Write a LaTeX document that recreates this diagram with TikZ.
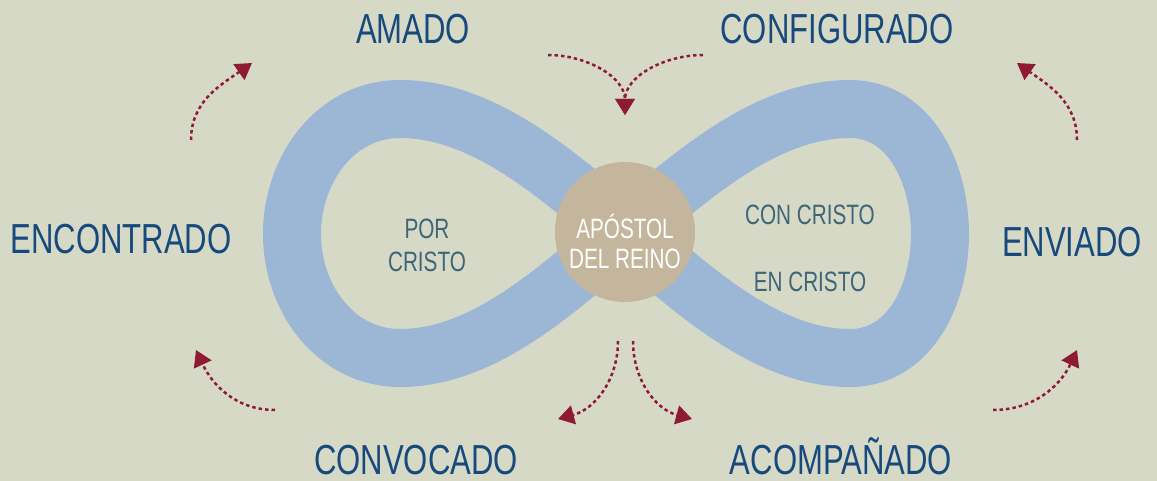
\documentclass[tikz,border=0pt]{standalone}
\usepackage{fontspec}
\setmainfont[FakeStretch=0.74]{Liberation Sans}
\usetikzlibrary{arrows.meta}
\definecolor{bgc}{HTML}{D7D9C7}
\definecolor{ribbon}{HTML}{9CB6D6}
\definecolor{disc}{HTML}{C4B69C}
\definecolor{lblue}{HTML}{174A7C}
\definecolor{tblue}{HTML}{3E6678}
\definecolor{ared}{HTML}{8E1B33}
\tikzset{
  lbl/.style={text=lblue, font=\fontsize{42}{48}\selectfont, inner sep=0pt, anchor=base},
  inner/.style={text=tblue, font=\fontsize{28}{33}\selectfont, align=center, inner sep=0pt},
  darr/.style={draw=ared, line width=2.5pt, dash pattern=on 3.5pt off 3pt, -{Triangle[length=16pt,width=19pt,fill=ared]}},
}
\begin{document}
\begin{tikzpicture}[x=1pt,y=-1pt]
\fill[bgc] (0,0) rectangle (1157,481);
\useasboundingbox (0,0) rectangle (1157,481);
% infinity ribbon
\draw[ribbon, line width=58pt, line join=round]
  (625,232) to[out=140,in=0,looseness=0.85] (400,109) to[out=180,in=90] (292,234)
  to[out=270,in=180] (400,358) to[out=0,in=220,looseness=0.85] (625,232)
  to[out=40,in=180,looseness=0.85] (850,109) to[out=0,in=90] (940,234)
  to[out=270,in=0] (850,358) to[out=180,in=320,looseness=0.85] cycle;
\node[circle, fill=disc, minimum size=140pt, inner sep=0pt] (c) at (625,232) {};
\node[text=white, font=\fontsize{28}{30}\selectfont, align=center] (ct) at (625,241) {APÓSTOL\\DEL REINO};
\node[inner] (por) at (427,245) {POR\\CRISTO};
\node[inner] (con) at (810,215) {CON CRISTO};
\node[inner] (en) at (810,282) {EN CRISTO};
% labels
\node[lbl] (amado) at (413,44) {AMADO};
\node[lbl] (config) at (837,44) {CONFIGURADO};
\node[lbl] (enc) at (121,254) {ENCONTRADO};
\node[lbl] (env) at (1072,257) {ENVIADO};
\node[lbl] (conv) at (416,474) {CONVOCADO};
\node[lbl] (acom) at (841,474) {ACOMPAÑADO};
% arrow coordinates
\coordinate (a1s) at (191,140); \coordinate (a1e) at (252,63);
\coordinate (a2l) at (548,55); \coordinate (a2r) at (703,55); \coordinate (a2e) at (625,115);
\coordinate (a3s) at (1077,140); \coordinate (a3e) at (1017,63);
\coordinate (a4s) at (275,410); \coordinate (a4e) at (196,350);
\coordinate (a5l) at (618,341); \coordinate (a5r) at (633,341);
\coordinate (a5le) at (558,419); \coordinate (a5re) at (692,419);
\coordinate (a6s) at (993,410); \coordinate (a6e) at (1077,350);
\draw[darr] (a1s) to[out=90,in=215] (a1e);
\draw[darr] (a2l) to[out=0,in=90] (a2e);
\draw[darr] (a2r) to[out=180,in=90] (a2e);
\draw[darr] (a3s) to[out=90,in=325] (a3e);
\draw[darr] (a4s) to[out=180,in=295] (a4e);
\draw[darr] (a5l) to[out=270,in=15] (a5le);
\draw[darr] (a5r) to[out=270,in=165] (a5re);
\draw[darr] (a6s) to[out=0,in=245] (a6e);
\end{tikzpicture}
\end{document}
